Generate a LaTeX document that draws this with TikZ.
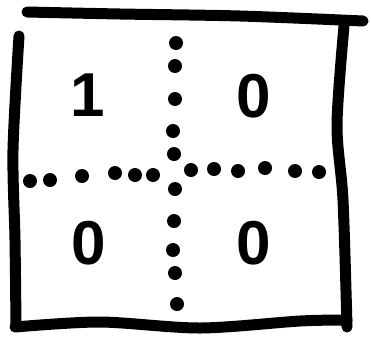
\documentclass[tikz,border=0pt]{standalone}
\usepackage{fontspec}
\setmainfont{Liberation Sans}

\begin{document}
\begin{tikzpicture}[x=1pt, y=-1pt,
  stroke/.style={line width=11pt, line cap=round, line join=round, black},
  dot/.style={circle, fill=black, inner sep=0pt, minimum size=14pt},
  digit/.style={inner sep=0pt, font=\bfseries\fontsize{62}{62}\selectfont}]
  \useasboundingbox (0,0) rectangle (371,343);
  % frame, four rough strokes
  \draw[stroke] plot[smooth] coordinates {(27,12) (120,14) (240,16) (363,21)};
  \draw[stroke] plot[smooth] coordinates {(19,36) (13,150) (15,240) (16,326)};
  \draw[stroke] plot[smooth] coordinates {(344,26) (337,125) (343,200) (347,327)};
  \draw[stroke] plot[smooth] coordinates {(15,327) (100,322) (200,328) (300,321) (347,320)};
  % dotted cross
  \foreach \x/\y [count=\i] in {176/43, 175/66, 175/99, 173/131, 174/154,
      175/189, 174/221, 173/250, 175/273, 177/304}
    \node[dot] (v\i) at (\x,\y) {};
  \foreach \x/\y [count=\i] in {30/181, 50/180, 82/176, 115/173, 135/175, 153/175,
      191/170, 214/169, 238/171, 265/168, 295/171, 319/172}
    \node[dot] (h\i) at (\x,\y) {};
  % cell values
  \node[digit] (tl) at (88,95) {1};
  \node[digit] (tr) at (254,96) {0};
  \node[digit] (bl) at (89,243) {0};
  \node[digit] (br) at (254,243) {0};
\end{tikzpicture}
\end{document}
